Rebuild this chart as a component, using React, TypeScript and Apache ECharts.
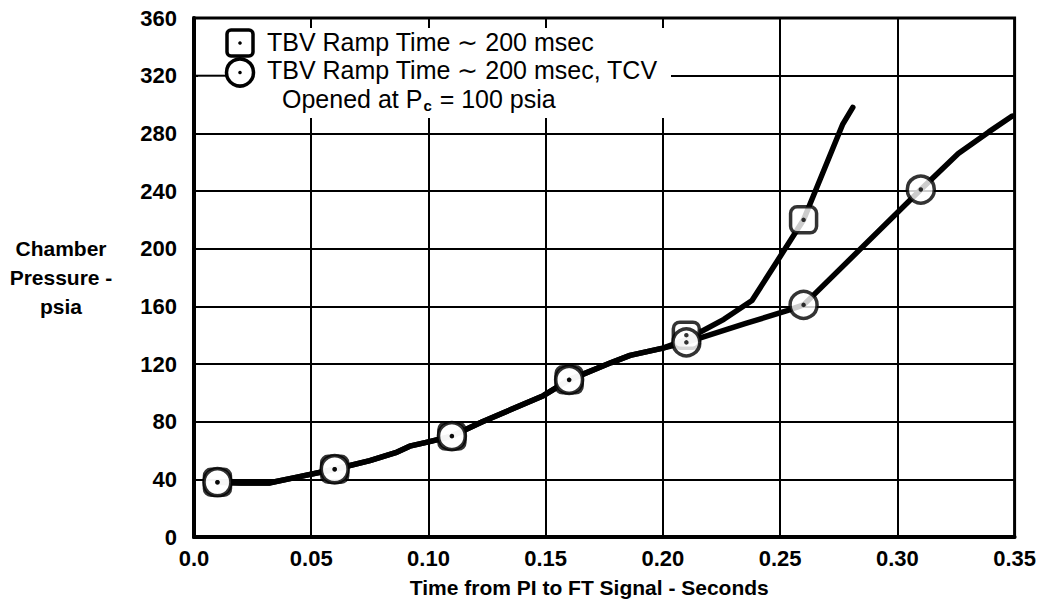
import React, { useEffect, useRef } from "react";
import * as echarts from "echarts";

// Shared part of both curves (0.01 – 0.21 s)
const sharedTime = [0.01, 0.02, 0.032, 0.044, 0.06, 0.075, 0.086, 0.092, 0.1, 0.11, 0.123, 0.149, 0.16, 0.166, 0.178, 0.186, 0.2, 0.21];
const sharedPc = [38, 37.5, 37.5, 41.5, 47, 53, 58.5, 63, 66, 70, 80, 98, 109, 113, 121, 126, 131, 137];

// Branch without TCV
const squareBranchTime = [0.21, 0.226, 0.238, 0.249, 0.26, 0.2766, 0.281];
const squareBranchPc = [137, 151, 164, 192, 220, 286, 298];

// Branch with TCV opened at Pc = 100 psia
const circleBranchTime = [0.21, 0.235, 0.253, 0.26, 0.31, 0.326, 0.339, 0.349];
const circleBranchPc = [135, 148, 157, 161, 241, 266, 281, 292];

// Marked test points
const squareTime = [0.01, 0.06, 0.11, 0.16, 0.21, 0.26];
const squarePc = [38, 47, 70, 109, 140, 220];
const circleTime = [0.01, 0.06, 0.11, 0.16, 0.21, 0.26, 0.31];
const circlePc = [38, 47, 70, 109, 135, 161, 241];

const legendLabels = [
  "TBV Ramp Time \u223C 200 msec",
  "TBV Ramp Time \u223C 200 msec, TCV",
];

const FONT = "'Liberation Sans', Arial, Helvetica, sans-serif";

const zip = (xs: number[], ys: number[]) => xs.map((x, i) => [x, ys[i]]);

export default function App() {
  const ref = useRef<HTMLDivElement>(null);

  useEffect(() => {
    document.body.style.margin = "0";
    const chart = echarts.init(ref.current!, null, { renderer: "svg" });

    const curveSquare = zip(sharedTime, sharedPc).concat(zip(squareBranchTime, squareBranchPc).slice(1));
    const curveCircle = zip(sharedTime, sharedPc).slice(0, -1).concat(zip(circleBranchTime, circleBranchPc));

    const lineStyle = { color: "#000", width: 5.5, cap: "round", join: "round" };
    const markerStyle = { color: "#fff", borderColor: "#000", borderWidth: 3.5 };

    chart.setOption({
      animation: false,
      backgroundColor: "#fff",
      textStyle: { fontFamily: FONT },
      grid: {
        left: 194,
        right: 19,
        top: 18,
        bottom: 67,
        show: true,
        borderColor: "#000",
        borderWidth: 3,
        backgroundColor: "transparent",
      },
      xAxis: {
        type: "value",
        min: 0,
        max: 0.35,
        interval: 0.05,
        name: "Time from PI to FT Signal - Seconds",
        nameLocation: "middle",
        nameGap: 40,
        nameTextStyle: {
          fontFamily: FONT,
          fontWeight: "bold",
          fontSize: 21,
          color: "#000",
          padding: [0, 30, 0, 0],
        },
        axisLine: { show: true, lineStyle: { color: "#000", width: 4 } },
        axisTick: { show: false },
        axisLabel: {
          margin: 10,
          fontFamily: FONT,
          fontWeight: "bold",
          fontSize: 22,
          color: "#000",
          formatter: (v: number) => (v === 0 ? "0.0" : v.toFixed(2)),
        },
        splitLine: { show: true, lineStyle: { color: "#000", width: 2 } },
      },
      yAxis: {
        type: "value",
        min: 0,
        max: 360,
        interval: 40,
        name: "Chamber\nPressure -\npsia",
        nameLocation: "middle",
        nameRotate: 0,
        nameGap: 133,
        nameTextStyle: {
          fontFamily: FONT,
          fontWeight: "bold",
          fontSize: 21,
          color: "#000",
          align: "center",
          verticalAlign: "middle",
          lineHeight: 29,
        },
        axisLine: { show: true, lineStyle: { color: "#000", width: 4 } },
        axisTick: { show: false },
        axisLabel: { margin: 17, fontFamily: FONT, fontWeight: "bold", fontSize: 22, color: "#000" },
        splitLine: { show: true, lineStyle: { color: "#000", width: 2 } },
      },
      graphic: [
        {
          type: "rect",
          z: 5,
          shape: { x: 198, y: 28, width: 473, height: 90 },
          style: { fill: "#fff" },
        },
        {
          type: "line",
          z: 6,
          shape: { x1: 196, y1: 75.7, x2: 226, y2: 75.7 },
          style: { stroke: "#000", lineWidth: 2 },
        },
        {
          type: "rect",
          z: 6,
          shape: { x: 227, y: 30, width: 26, height: 26, r: 4 },
          style: { fill: "#fff", stroke: "#000", lineWidth: 3.5 },
        },
        { type: "circle", z: 7, shape: { cx: 240, cy: 43, r: 1.8 }, style: { fill: "#000" } },
        {
          type: "circle",
          z: 6,
          shape: { cx: 240, cy: 72.5, r: 13.5 },
          style: { fill: "#fff", stroke: "#000", lineWidth: 3.5 },
        },
        { type: "circle", z: 7, shape: { cx: 240, cy: 72.5, r: 1.8 }, style: { fill: "#000" } },
        {
          type: "text",
          z: 7,
          x: 267,
          y: 42,
          style: { text: legendLabels[0], font: `25px ${FONT}`, fill: "#000", verticalAlign: "middle" },
        },
        {
          type: "text",
          z: 7,
          x: 267,
          y: 70,
          style: { text: legendLabels[1], font: `25px ${FONT}`, fill: "#000", verticalAlign: "middle" },
        },
        {
          type: "text",
          z: 7,
          x: 282,
          y: 99,
          style: {
            text: "{a|Opened at P}{s|c}{a| = 100 psia}",
            verticalAlign: "middle",
            rich: {
              a: { fontFamily: FONT, fontSize: 25, color: "#000" },
              s: { fontFamily: FONT, fontSize: 15, fontWeight: "bold", color: "#000", padding: [12, 1, 0, 1] },
            },
          },
        },
      ],
      series: [
        {
          type: "line",
          data: curveSquare,
          showSymbol: false,
          symbol: "none",
          lineStyle,
          z: 2,
        },
        {
          type: "line",
          data: curveCircle,
          showSymbol: false,
          symbol: "none",
          lineStyle,
          z: 2,
        },
        {
          type: "scatter",
          data: zip(squareTime, squarePc),
          symbol: "roundRect",
          symbolSize: 26,
          itemStyle: markerStyle,
          z: 3,
        },
        {
          type: "scatter",
          data: zip(circleTime, circlePc),
          symbol: "circle",
          symbolSize: 27,
          itemStyle: markerStyle,
          z: 4,
        },
        {
          type: "scatter",
          data: zip(squareTime, squarePc).concat(zip(circleTime, circlePc)),
          symbol: "circle",
          symbolSize: 4.5,
          itemStyle: { color: "#000" },
          z: 5,
        },
      ],
    });

    return () => chart.dispose();
  }, []);

  return <div ref={ref} style={{ width: 1039, height: 604 }} />;
}
